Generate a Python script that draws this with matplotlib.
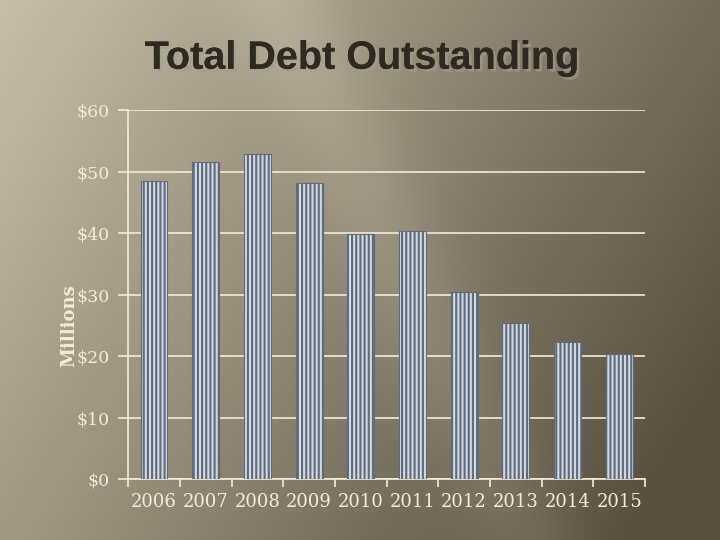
import matplotlib.pyplot as plt
import numpy as np
from matplotlib import patheffects

years = ["2006", "2007", "2008", "2009", "2010", "2011", "2012", "2013", "2014", "2015"]
debt = [48.5, 51.5, 52.8, 48.1, 39.8, 40.4, 30.4, 25.3, 22.3, 20.3]
yticks = [0, 10, 20, 30, 40, 50, 60]

CREAM = "#f3ecd9"

fig = plt.figure(figsize=(7.2, 5.4), dpi=100)

# background: light top-left to dark bottom-right, with a soft diagonal streak
bg = fig.add_axes([0, 0, 1, 1], zorder=-10)
h, w = 540, 720
yy, xx = np.mgrid[0:h, 0:w]
t = np.clip((xx / w) * 0.75 + (yy / h) * 0.35, 0, 1)
light = np.array([200, 191, 170]) / 255
dark = np.array([88, 80, 64]) / 255
img = light[None, None, :] * (1 - t[..., None]) + dark[None, None, :] * t[..., None]
d = (xx - 280 - 0.45 * yy) / 60.0
streak = 0.06 * np.exp(-d ** 2)
img = np.clip(img + streak[..., None], 0, 1)
bg.imshow(img, aspect="auto", extent=[0, 1, 0, 1], origin="upper")
bg.axis("off")

ax = fig.add_axes([0.178, 0.113, 0.718, 0.683])
ax.set_facecolor("none")
x = np.arange(len(years))
plt.rcParams["hatch.linewidth"] = 1.5
ax.bar(x, debt, width=0.52, color="#d3d9e1", edgecolor="#5f6a7b",
       hatch="||||", linewidth=0.8, zorder=3)

ax.set_xlim(-0.5, len(years) - 0.5)
ax.set_ylim(0, 60)
ax.set_yticks(yticks)
ax.set_yticklabels([f"${v}" for v in yticks], family="DejaVu Serif",
                   fontsize=12.5, color=CREAM)
ax.set_xticks(x)
ax.set_xticklabels(years, family="DejaVu Serif", fontsize=13, color=CREAM)
ax.set_xticks(np.arange(-0.5, len(years), 1), minor=True)
ax.tick_params(axis="x", which="major", length=0, pad=10)
ax.tick_params(axis="x", which="minor", length=6, color=CREAM, width=1.2)
ax.tick_params(axis="y", length=7, color=CREAM, width=1.2, pad=6)
ax.grid(axis="y", color=CREAM, linewidth=1.2, zorder=0)
ax.set_axisbelow(True)
for s in ["top", "right"]:
    ax.spines[s].set_visible(False)
for s in ["left", "bottom"]:
    ax.spines[s].set_color(CREAM)
    ax.spines[s].set_linewidth(1.2)

ax.set_ylabel("Millions", family="DejaVu Serif", fontsize=13,
              fontweight="bold", color=CREAM)
ax.yaxis.set_label_coords(-0.097, 0.417)

fig.text(0.503, 0.893, "Total Debt Outstanding",
         family=["Liberation Sans", "DejaVu Sans"], fontweight="bold",
         fontsize=28.5, color="#2e2a22", ha="center", va="center",
         path_effects=[patheffects.withSimplePatchShadow(offset=(2, -2),
                                                         shadow_rgbFace="#a79f8c",
                                                         alpha=0.6),
                       patheffects.Normal()])

plt.savefig("out.png", dpi=100)
